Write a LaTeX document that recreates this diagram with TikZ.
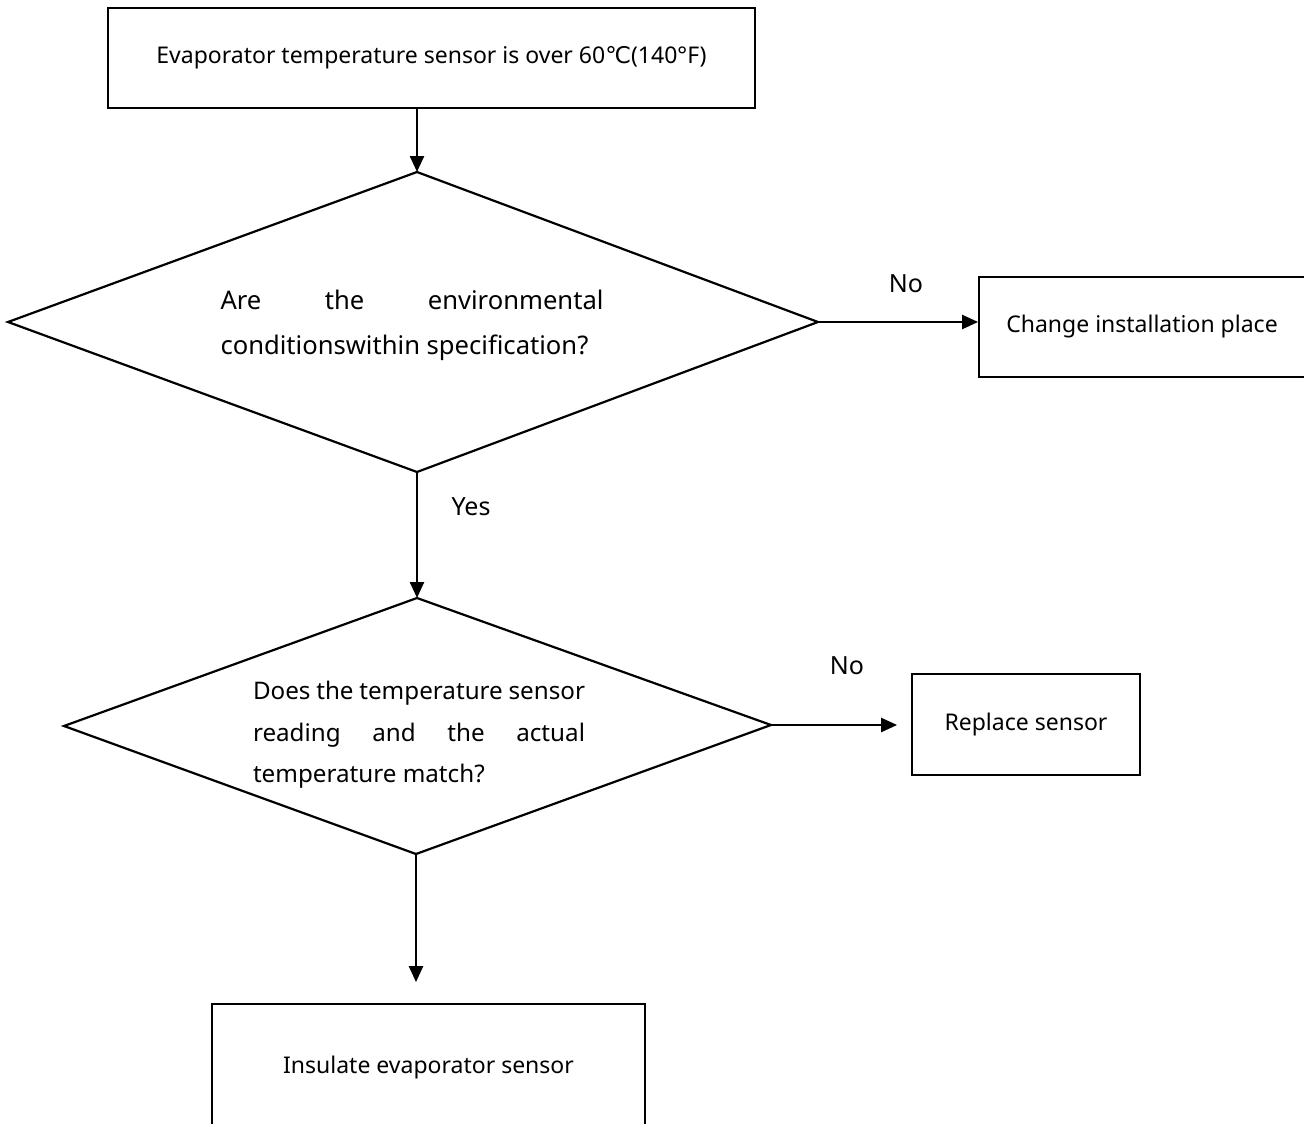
\documentclass[tikz,border=0pt]{standalone}
\usepackage{fontspec}
\setmainfont{Noto Sans}
\newfontfamily\djv{DejaVu Sans}
\usetikzlibrary{arrows.meta}
\begin{document}
\begin{tikzpicture}[x=1pt,y=-1pt,
 box/.style={draw,line width=1.8pt,rectangle,inner sep=0pt,font=\fontsize{23}{27}\selectfont},
 dline/.style={line width=2.2pt,line join=miter},
 arr/.style={line width=2.4pt,-{Triangle[length=16pt,width=14pt]}},
 lbl/.style={font=\fontsize{25}{29}\selectfont}]
\fill[white] (0,0) rectangle (1304,1124);
\clip (0,0) rectangle (1304,1124);
% boxes
\node[box,minimum width=647pt,minimum height=100pt] (start) at (431.5,58) {Evaporator temperature sensor is over 60{\djv ℃}(140°F)};
\node[box,minimum width=326pt,minimum height=100pt] (b1) at (1142,327) {Change installation place};
\node[box,minimum width=228pt,minimum height=101pt] (b2) at (1026,724.5) {Replace sensor};
\node[box,minimum width=433pt,minimum height=128pt] (b3) at (428.5,1068) {Insulate evaporator sensor};
% diamond 1
\coordinate (d1t) at (417,172);
\coordinate (d1l) at (8,322);
\coordinate (d1r) at (818,322);
\coordinate (d1b) at (417,472);
\draw[dline] (d1t) -- (d1r) -- (d1b) -- (d1l) -- cycle;
\node[align=left,inner sep=0pt,font=\fontsize{25.6}{45}\selectfont] (d1text) at (412,325) {\makebox[383pt][s]{Are the environmental}\\conditionswithin specification?};
% diamond 2
\coordinate (d2t) at (417,598);
\coordinate (d2l) at (64,726);
\coordinate (d2r) at (771,725);
\coordinate (d2b) at (416,854);
\draw[dline] (d2t) -- (d2r) -- (d2b) -- (d2l) -- cycle;
\node[align=left,inner sep=0pt,font=\fontsize{24.2}{41.5}\selectfont] (d2text) at (419,735) {\makebox[332pt][s]{Does the temperature sensor}\\\makebox[332pt][s]{reading and the actual}\\temperature match?};
% labels
\node[lbl] (no1) at (906,284) {No};
\node[lbl] (no2) at (847,666) {No};
\node[lbl] (yes) at (471,507) {Yes};
% connectors
\draw[arr] (start.south -| d1t) -- (d1t);
\draw[arr] (d1r) -- (d1r -| b1.west);
\draw[arr] (d1b) -- (d2t);
\draw[arr,shorten >=14pt] (d2r) -- (d2r -| b2.west);
\draw[arr,shorten >=21pt] (d2b) -- (d2b |- b3.north);
\end{tikzpicture}
\end{document}
